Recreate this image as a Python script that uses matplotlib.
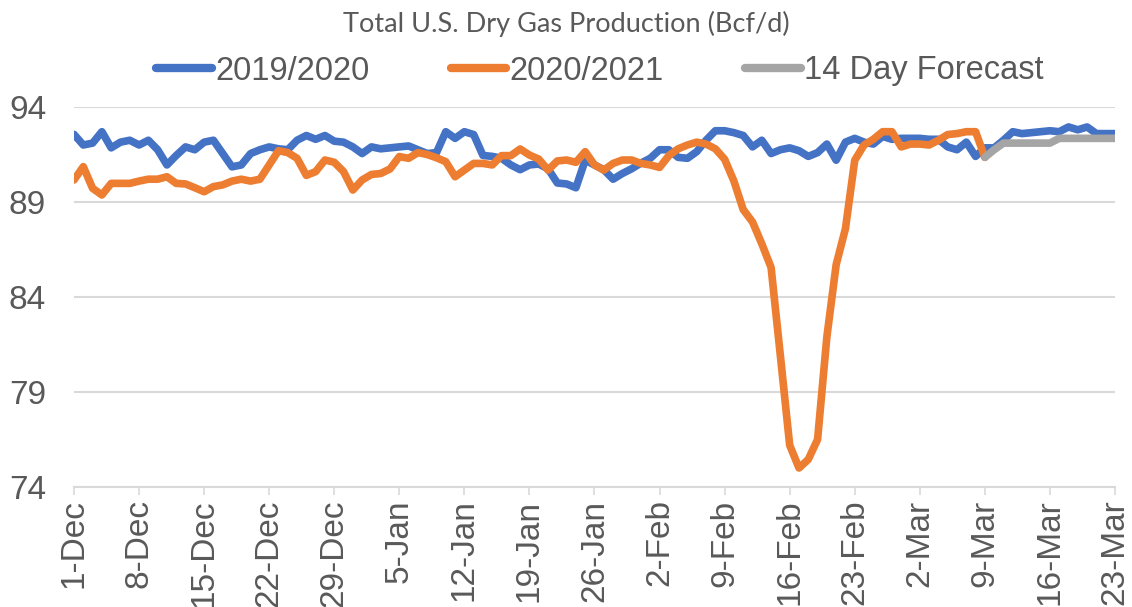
import numpy as np
import matplotlib
matplotlib.use('Agg')
import matplotlib.pyplot as plt

# =============================================================================
# --- Donnees (Bcf/d), un point par jour du 1-Dec au 23-Mar ---
# =============================================================================

tick_labels = ['1-Dec', '8-Dec', '15-Dec', '22-Dec', '29-Dec', '5-Jan', '12-Jan',
               '19-Jan', '26-Jan', '2-Feb', '9-Feb', '16-Feb', '23-Feb', '2-Mar',
               '9-Mar', '16-Mar', '23-Mar']
y_ticks = [74, 79, 84, 89, 94]

prod_2019_2020 = [
    92.56, 92.0, 92.1, 92.7, 91.85, 92.15, 92.25,
    92.0, 92.25, 91.75, 90.95, 91.45, 91.9, 91.75,
    92.15, 92.25, 91.55, 90.85, 90.95, 91.55, 91.75,
    91.9, 91.8, 91.75, 92.25, 92.5, 92.3, 92.5,
    92.2, 92.15, 91.9, 91.55, 91.9, 91.8, 91.85,
    91.9, 91.95, 91.75, 91.55, 91.6, 92.7, 92.35,
    92.7, 92.55, 91.45, 91.4, 91.3, 90.95, 90.7,
    90.95, 91.0, 90.75, 90.0, 89.95, 89.75, 91.2,
    90.95, 90.7, 90.2, 90.5, 90.75, 91.05, 91.3,
    91.75, 91.75, 91.35, 91.3, 91.65, 92.25, 92.75,
    92.75, 92.65, 92.5, 91.9, 92.25, 91.55, 91.75,
    91.85, 91.7, 91.4, 91.6, 92.05, 91.2, 92.15,
    92.35, 92.15, 92.05, 92.45, 92.3, 92.35, 92.35,
    92.35, 92.3, 92.3, 91.9, 91.75, 92.15, 91.4,
    91.85, 91.85, 92.25, 92.7, 92.6, 92.65, 92.7,
    92.75, 92.7, 92.95, 92.8, 92.95, 92.6, 92.6,
    92.6]

prod_2020_2021 = [
    90.16, 90.86, 89.72, 89.37, 89.98, 89.98, 89.98,
    90.1, 90.2, 90.2, 90.33, 89.98, 89.95, 89.75,
    89.54, 89.81, 89.9, 90.1, 90.2, 90.1, 90.2,
    90.95, 91.7, 91.6, 91.3, 90.4, 90.6, 91.21,
    91.09, 90.6, 89.63, 90.16, 90.45, 90.5, 90.74,
    91.39, 91.3, 91.6, 91.5, 91.33, 91.12, 90.33,
    90.68, 91.03, 91.03, 90.95, 91.44, 91.44, 91.79,
    91.47, 91.26, 90.68, 91.16, 91.21, 91.09, 91.65,
    90.95, 90.68, 91.03, 91.21, 91.21, 91.03, 90.95,
    90.82, 91.44, 91.8, 92.0, 92.15, 92.05, 91.8,
    91.25, 90.1, 88.6, 87.95, 86.8, 85.55, 80.9,
    76.2, 75.0, 75.45, 76.5, 81.9, 85.7, 87.6,
    91.2, 92.0, 92.3, 92.7, 92.7, 91.9, 92.05,
    92.05, 92.0, 92.25, 92.55, 92.6, 92.7, 92.7,
    91.35]

forecast_14d = [91.35, 91.75, 92.1, 92.1, 92.1, 92.1, 92.1, 92.1,
                92.35, 92.35, 92.35, 92.35, 92.35, 92.35, 92.35]

# =============================================================================
# --- Figure ---
# =============================================================================

gris_texte = '#595959'
gris_grille = '#d9d9d9'

fig = plt.figure(figsize=(11.32, 6.07), dpi=100)
ax = fig.add_axes([74/1132, 1-487/607, (1115-74)/1132, (487-107)/607])

x1 = np.arange(len(prod_2019_2020))
x2 = np.arange(len(prod_2020_2021))
x3 = np.arange(len(forecast_14d)) + len(prod_2020_2021) - 1

style = dict(lw=5.5, solid_capstyle='round', solid_joinstyle='round')
ax.plot(x1, prod_2019_2020, color='#4472C4', label='2019/2020', **style)
ax.plot(x2, prod_2020_2021, color='#ED7D31', label='2020/2021', **style)
ax.plot(x3, forecast_14d, color='#A5A5A5', label='14 Day Forecast', **style)

ax.set_xlim(0, len(prod_2019_2020) - 1)
ax.set_ylim(74, 94)
ax.set_yticks(y_ticks)
ax.set_xticks(np.arange(0, len(prod_2019_2020), 7))
ax.set_xticklabels(tick_labels, rotation=90, va='top')

ax.grid(axis='y', color=gris_grille, lw=1.5)
ax.set_axisbelow(True)
for s in ['top', 'right', 'left']:
    ax.spines[s].set_visible(False)
ax.spines['bottom'].set_color(gris_grille)
ax.spines['bottom'].set_linewidth(1.5)

ax.tick_params(axis='y', length=0, pad=20, labelsize=24, labelcolor=gris_texte)
ax.tick_params(axis='x', length=6, width=1.2, color=gris_grille, pad=3, labelsize=24, labelcolor=gris_texte)
for lab in ax.get_xticklabels() + ax.get_yticklabels():
    lab.set_family('Liberation Sans')

fig.text(566/1132, 1-24/607, 'Total U.S. Dry Gas Production (Bcf/d)', ha='center', va='center',
         fontsize=19.5, color=gris_texte, family='Lato')

leg = fig.legend(loc='center', bbox_to_anchor=(600/1132, 1-71/607), ncol=3, frameon=False,
                 prop={'family': 'Liberation Sans', 'size': 23.5}, handlelength=1.7,
                 handletextpad=0.1, columnspacing=2.5, borderpad=0)
for t in leg.get_texts():
    t.set_color(gris_texte)
for h in leg.get_lines():
    h.set_linewidth(6)

fig.savefig('out.png', dpi=100)
